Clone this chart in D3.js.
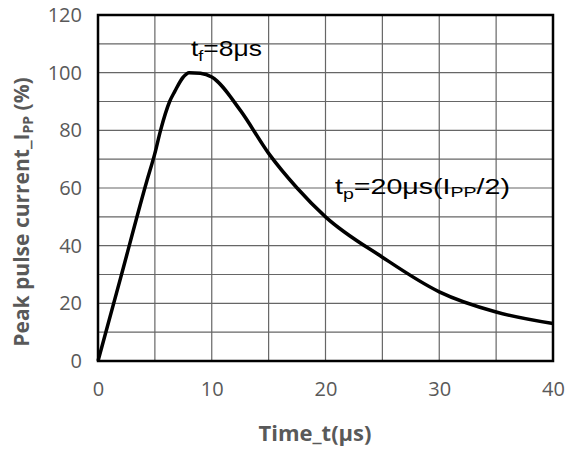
<!DOCTYPE html>
<html>
<head>
<meta charset="utf-8">
<script src="https://cdn.jsdelivr.net/npm/d3@7"></script>
<style>
  body { margin: 0; background: #fff; }
  .tick text { font-family: "Open Sans", sans-serif; font-size: 20px; fill: #595959; }
  .title { font-family: "Open Sans", sans-serif; font-weight: bold; fill: #595959; }
  .note { font-family: "Liberation Sans", Arial, sans-serif; font-size: 22px; fill: #000; }
</style>
</head>
<body>
<div id="chart"></div>
<script>
// pulse waveform
const timeUs = [0, 2, 4.3, 5, 5.5, 6.3, 6.75, 7.5, 8, 9, 10, 12.5, 15, 17.5, 20, 25, 30, 35, 40];
const currentPct = [0, 29, 62.5, 72, 80, 90, 93.5, 98.5, 100, 99.8, 98.5, 87, 72, 60, 50, 36, 24, 17, 13];
const xTicks = [0, 10, 20, 30, 40];
const yTicks = [0, 20, 40, 60, 80, 100, 120];

const W = 565, H = 452;
const m = { top: 15, right: 12, bottom: 91, left: 98 };
const svg = d3.select("#chart").append("svg").attr("width", W).attr("height", H);

const x = d3.scaleLinear().domain([0, 40]).range([m.left, W - m.right]);
const y = d3.scaleLinear().domain([0, 120]).range([H - m.bottom, m.top]);

// grid: every 5 us, every 10 %
svg.append("g").selectAll("line").data(d3.range(5, 40, 5)).join("line")
  .attr("x1", d => x(d)).attr("x2", d => x(d)).attr("y1", y(0)).attr("y2", y(120))
  .attr("stroke", "#666").attr("stroke-width", 1.2);
svg.append("g").selectAll("line").data(d3.range(10, 120, 10)).join("line")
  .attr("x1", x(0)).attr("x2", x(40)).attr("y1", d => y(d)).attr("y2", d => y(d))
  .attr("stroke", "#666").attr("stroke-width", 1.2);

svg.append("rect").attr("x", x(0)).attr("y", y(120))
  .attr("width", x(40) - x(0)).attr("height", y(0) - y(120))
  .attr("fill", "none").attr("stroke", "#000").attr("stroke-width", 2.5);

const xa = svg.append("g").attr("transform", `translate(0,${y(0)})`)
  .call(d3.axisBottom(x).tickValues(xTicks).tickSize(0).tickPadding(21));
const ya = svg.append("g").attr("transform", `translate(${x(0)},0)`)
  .call(d3.axisLeft(y).tickValues(yTicks).tickSize(0).tickPadding(16));
[xa, ya].forEach(a => a.select(".domain").remove());

svg.append("path").datum(timeUs.map((t, i) => [t, currentPct[i]]))
  .attr("fill", "none").attr("stroke", "#000").attr("stroke-width", 3.5)
  .attr("stroke-linejoin", "round")
  .attr("d", d3.line().x(d => x(d[0])).y(d => y(d[1])).curve(d3.curveMonotoneX));

svg.append("text").attr("class", "title").attr("x", 315).attr("y", 441)
  .attr("font-size", 22).attr("text-anchor", "middle").text("Time_t(μs)");
const yt = svg.append("text").attr("class", "title").attr("font-size", 21)
  .attr("text-anchor", "middle").attr("transform", "translate(29,212) rotate(-90)");
yt.append("tspan").text("Peak pulse current_I");
yt.append("tspan").attr("font-size", 14).attr("dy", 4).text("PP");
yt.append("tspan").attr("dy", -4).text(" (%)");

const n1 = svg.append("text").attr("class", "note").attr("x", 191).attr("y", 56)
  .attr("textLength", 71).attr("lengthAdjust", "spacingAndGlyphs");
n1.append("tspan").text("t");
n1.append("tspan").attr("font-size", 15).attr("dy", 5).text("f");
n1.append("tspan").attr("dy", -5).text("=8μs");

const n2 = svg.append("text").attr("class", "note").attr("x", 335).attr("y", 194)
  .attr("textLength", 175).attr("lengthAdjust", "spacingAndGlyphs");
n2.append("tspan").text("t");
n2.append("tspan").attr("font-size", 15).attr("dy", 5).text("p");
n2.append("tspan").attr("dy", -5).text("=20μs(I");
n2.append("tspan").attr("font-size", 15).attr("dy", 3).text("PP");
n2.append("tspan").attr("dy", -3).text("/2)");
</script>
</body>
</html>
